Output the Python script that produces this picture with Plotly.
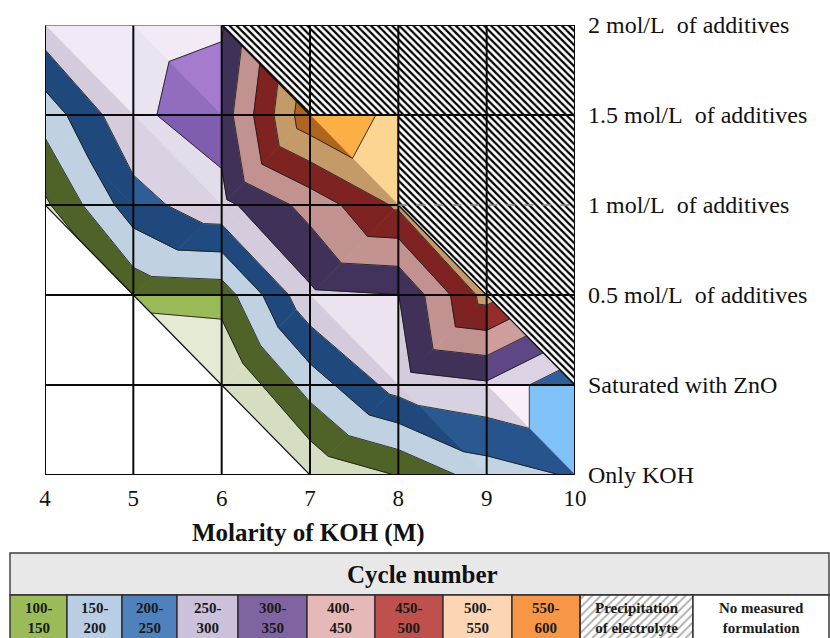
import numpy as np
import plotly.graph_objects as go

# ---------------------------------------------------------------- data ----
koh_molarity = [4, 5, 6, 7, 8, 9, 10]
additive_labels = ["Only KOH", "Saturated with ZnO",
                   "0.5 mol/L\u00a0 of additives", "1 mol/L\u00a0 of additives",
                   "1.5 mol/L\u00a0 of additives", "2 mol/L\u00a0 of additives"]

NM = None       # formulation not measured
PR = "precip"   # electrolyte precipitated

# cycle number reached, one list per electrolyte row, KOH 4 ... 10 M
cycles_only_koh = [NM, NM, NM, 55, 102, 175, 205]
cycles_sat_zno = [NM, NM, 40, 172, 272, 292, 205]
cycles_add_0_5 = [NM, 115, 122, 290, 299, 470, PR]
cycles_add_1_0 = [91, 229, 285, 368, 459, PR, PR]
cycles_add_1_5 = [170, 292, 322, 538, 487, PR, PR]
cycles_add_2_0 = [280, 285, 295, PR, PR, PR, PR]

# colour bands of the surface, steps of 50 cycles
band_edges = [100, 150, 200, 250, 300, 350, 400, 450, 500]
band_shadow = ["#D6DEC2", "#4F6228", "#C0D2E2", "#1F497D", "#D4CCDD",
               "#3F3157", "#C29290", "#7E2222", "#C49A68", "#B0651E"]
band_base = ["#E4EAD4", "#9BBB59", "#C8DAEA", "#3A70B0", "#DFD8E8",
             "#7556A6", "#D8A4A2", "#A33432", "#E6BC8A", "#E08A30"]
band_lit = ["#F1F5E6", "#B6D276", "#DDE9F6", "#80C2F8", "#F8EFF9",
            "#B486DC", "#EEC6C4", "#C8504C", "#FFD893", "#FFB347"]

# key table under the chart
key_labels = ["100-<br>150", "150-<br>200", "200-<br>250", "250-<br>300",
              "300-<br>350", "400-<br>450", "450-<br>500", "500-<br>550",
              "550-<br>600", "Precipitation<br>of electrolyte",
              "No measured<br>formulation"]
key_colors = ["#9BBB59", "#B9CDE5", "#4F81BD", "#CCC1DA", "#8064A2",
              "#E6B9B8", "#C0504D", "#FCD5B5", "#F79646", None, "#FFFFFF"]
key_edges_px = [10, 67, 122, 177, 238, 307, 375, 443, 512, 580, 693, 829]

# ------------------------------------------------------------- helpers ----
grid = [cycles_only_koh, cycles_sat_zno, cycles_add_0_5,
        cycles_add_1_0, cycles_add_1_5, cycles_add_2_0]
SERIF = "Liberation Serif, Times New Roman, serif"


def is_num(v):
    return isinstance(v, (int, float))


def rgb(h):
    h = h.lstrip("#")
    return np.array([int(h[k:k + 2], 16) for k in (0, 2, 4)], dtype=float)


def mix(c1, c2, t):
    c = rgb(c1) * (1 - t) + rgb(c2) * t
    return "rgb(%d,%d,%d)" % tuple(np.clip(np.round(c), 0, 255))


LIGHT = np.array([0.5, 0.3, 0.81])
LIGHT = LIGHT / np.linalg.norm(LIGHT)


def intensity(tri):
    a_mat = np.array([[p[0], p[1], 1.0] for p in tri])
    zz = np.array([p[2] for p in tri], dtype=float)
    ga, gb, _ = np.linalg.solve(a_mat, zz)
    n = np.array([-ga / 150.0, -gb / 150.0, 1.0])
    n = n / np.linalg.norm(n)
    return float(n @ LIGHT)


def band_color(k, light):
    if light <= 0.3:
        return mix(band_shadow[k], band_shadow[k], 0)
    if light < 0.55:
        return mix(band_shadow[k], band_base[k], (light - 0.3) / 0.25)
    if light < 0.9:
        return mix(band_base[k], band_lit[k], (light - 0.55) / 0.35)
    return mix(band_lit[k], band_lit[k], 0)


def clip(poly, level, above):
    out = []
    n = len(poly)
    for k in range(n):
        cur, nxt = poly[k], poly[(k + 1) % n]
        cin = cur[2] >= level if above else cur[2] <= level
        nin = nxt[2] >= level if above else nxt[2] <= level
        if cin:
            out.append(cur)
        if cin != nin:
            t = (level - cur[2]) / (nxt[2] - cur[2])
            out.append((cur[0] + t * (nxt[0] - cur[0]),
                        cur[1] + t * (nxt[1] - cur[1]), level))
    return out


# ---------------------------------------------------- triangulate grid ----
surface_tris, hatch_tris, edge_lines = [], [], []
for j in range(len(grid) - 1):
    for i in range(len(koh_molarity) - 1):
        corner = {
            "TL": (i, j + 1), "TR": (i + 1, j + 1),
            "BL": (i, j), "BR": (i + 1, j),
        }
        vals = {k: grid[c[1]][c[0]] for k, c in corner.items()}
        pts = {k: (koh_molarity[c[0]], c[1], vals[k]) for k, c in corner.items()}
        if all(is_num(v) for v in vals.values()):
            if vals["TL"] + vals["BR"] >= vals["BL"] + vals["TR"]:
                split = [("TL", "TR", "BR"), ("TL", "BL", "BR")]
            else:
                split = [("TL", "TR", "BL"), ("TR", "BR", "BL")]
        else:
            split = [("TL", "TR", "BR"), ("TL", "BL", "BR")]
        n_valid = 0
        for tri in split:
            tv = [vals[k] for k in tri]
            if all(is_num(v) for v in tv):
                surface_tris.append([pts[k] for k in tri])
                n_valid += 1
            elif any(v == PR for v in tv):
                hatch_tris.append([(pts[k][0], pts[k][1]) for k in tri])
        if n_valid == 1:
            edge_lines.append((pts["TL"][:2], pts["BR"][:2]))

fig = go.Figure()

# coloured bands
contour_x, contour_y = [], []
for tri in surface_tris:
    light = intensity(tri)
    for k in range(len(band_edges) + 1):
        poly = list(tri)
        if k > 0:
            poly = clip(poly, band_edges[k - 1], True)
        if k < len(band_edges) and poly:
            poly = clip(poly, band_edges[k], False)
        if len(poly) < 3:
            continue
        col = band_color(k, light)
        fig.add_trace(go.Scatter(
            x=[p[0] for p in poly] + [poly[0][0]],
            y=[p[1] for p in poly] + [poly[0][1]],
            mode="lines", fill="toself", fillcolor=col,
            line=dict(color=col, width=0.8),
            hoverinfo="skip", showlegend=False))
    for lv in band_edges:
        cross = []
        for k in range(3):
            p, q = tri[k], tri[(k + 1) % 3]
            if (p[2] - lv) * (q[2] - lv) < 0:
                t = (lv - p[2]) / (q[2] - p[2])
                cross.append((p[0] + t * (q[0] - p[0]), p[1] + t * (q[1] - p[1])))
        if len(cross) == 2:
            contour_x += [cross[0][0], cross[1][0], None]
            contour_y += [cross[0][1], cross[1][1], None]

fig.add_trace(go.Scatter(x=contour_x, y=contour_y, mode="lines",
                         line=dict(color="rgba(25,25,25,0.85)", width=1),
                         hoverinfo="skip", showlegend=False))

# boundary of the measured region
bx, by = [], []
for a, b in edge_lines:
    bx += [a[0], b[0], None]
    by += [a[1], b[1], None]
fig.add_trace(go.Scatter(x=bx, y=by, mode="lines",
                         line=dict(color="#111111", width=1.2),
                         hoverinfo="skip", showlegend=False))


# precipitation region as one hatched outline
def outline(tris):
    cnt = {}
    for t in tris:
        for k in range(3):
            key = frozenset([t[k], t[(k + 1) % 3]])
            cnt[key] = cnt.get(key, 0) + 1
    adj = {}
    for key, c in cnt.items():
        if c == 1:
            a, b = tuple(key)
            adj.setdefault(a, []).append(b)
            adj.setdefault(b, []).append(a)
    used, xs, ys = set(), [], []
    for start in adj:
        cur, loop = start, [start]
        while True:
            nxt = next((n for n in adj[cur] if frozenset([cur, n]) not in used), None)
            if nxt is None:
                break
            used.add(frozenset([cur, nxt]))
            loop.append(nxt)
            cur = nxt
            if cur == start:
                break
        if len(loop) > 2:
            xs += [p[0] for p in loop] + [None]
            ys += [p[1] for p in loop] + [None]
    return xs, ys


hx, hy = outline(hatch_tris)
fig.add_trace(go.Scatter(
    x=hx, y=hy, mode="lines", fill="toself", fillcolor="white",
    fillpattern=dict(shape="\\", fgcolor="#000000", bgcolor="#FFFFFF",
                     size=5, solidity=0.45),
    line=dict(color="#111111", width=1.2),
    hoverinfo="skip", showlegend=False))

# grid lines drawn over the surface
gx, gy = [], []
for xv in koh_molarity:
    gx += [xv, xv, None]
    gy += [0, len(grid) - 1, None]
for r in range(len(grid) - 1):
    if r == 3:
        gx += [koh_molarity[0], 8, None]
    else:
        gx += [koh_molarity[0], koh_molarity[-1], None]
    gy += [r, r, None]
gx += [6, koh_molarity[-1], None]
gy += [len(grid) - 1, len(grid) - 1, None]
fig.add_trace(go.Scatter(x=gx, y=gy, mode="lines",
                         line=dict(color="#0A0A0A", width=2),
                         hoverinfo="skip", showlegend=False))
fig.add_trace(go.Scatter(x=[8, koh_molarity[-1]], y=[3, 3], mode="lines",
                         line=dict(color="#8A8A8A", width=1.5, dash="dash"),
                         hoverinfo="skip", showlegend=False))
fig.add_trace(go.Scatter(x=[koh_molarity[0], 6], y=[len(grid) - 1] * 2,
                         mode="lines", line=dict(color="#6E6E6E", width=1.5),
                         hoverinfo="skip", showlegend=False))

# ---------------------------------------------------------------- key ----
W, H = 830, 638
X0, X1, Y0, Y1 = 45, 575, 25, 475
TOP, MID, BOT = 553, 595, 660

shapes = [dict(type="rect", xref="x2", yref="y2", x0=10, x1=829, y0=TOP, y1=MID,
               fillcolor="#E8E8E8", line=dict(color="#3C3C3C", width=1.4),
               layer="below")]
annotations = [dict(text="<b>Cycle number</b>", xref="x2", yref="y2",
                    x=422, y=(TOP + MID) / 2, showarrow=False,
                    font=dict(family=SERIF, size=25, color="#111111"))]

pr_idx = key_colors.index(None)
px0, px1 = key_edges_px[pr_idx], key_edges_px[pr_idx + 1]
fig.add_trace(go.Scatter(
    x=[px0, px1, px1, px0, px0], y=[MID, MID, BOT, BOT, MID],
    xaxis="x2", yaxis="y2", mode="lines", fill="toself", fillcolor="white",
    fillpattern=dict(shape="/", fgcolor="#A8A8A8", bgcolor="#FFFFFF",
                     size=6, solidity=0.3),
    line=dict(width=0), hoverinfo="skip", showlegend=False))

for k, (lab, col) in enumerate(zip(key_labels, key_colors)):
    xa, xb = key_edges_px[k], key_edges_px[k + 1]
    shapes.append(dict(type="rect", xref="x2", yref="y2", x0=xa, x1=xb,
                       y0=MID, y1=BOT,
                       fillcolor=col if col else "rgba(0,0,0,0)",
                       line=dict(color="#2E2E2E", width=1.4), layer="above"))
    annotations.append(dict(text="<b>%s</b>" % lab, xref="x2", yref="y2",
                            x=(xa + xb) / 2, y=617.5, showarrow=False,
                            font=dict(family=SERIF, size=15, color="#1A1A1A")))

annotations.append(dict(text="<b>Molarity of KOH (M)</b>", xref="x2", yref="y2",
                        x=308, y=533, showarrow=False,
                        font=dict(family=SERIF, size=25, color="#111111")))

fig.update_layout(
    width=W, height=H, margin=dict(l=0, r=0, t=0, b=0),
    paper_bgcolor="white", plot_bgcolor="rgba(0,0,0,0)",
    template="none", showlegend=False,
    xaxis=dict(domain=[X0 / W, X1 / W], range=[koh_molarity[0], koh_molarity[-1]],
               tickvals=koh_molarity, ticktext=[str(v) for v in koh_molarity],
               tickfont=dict(family=SERIF, size=23, color="#111111"),
               ticks="", ticklabelstandoff=7, showgrid=False, zeroline=False,
               showline=False, automargin=False, fixedrange=True),
    yaxis=dict(domain=[1 - Y1 / H, 1 - Y0 / H], range=[0, len(grid) - 1],
               side="right", tickvals=list(range(len(grid))),
               ticktext=additive_labels,
               tickfont=dict(family=SERIF, size=24, color="#111111"),
               ticks="", ticklabelstandoff=12, showgrid=False, zeroline=False,
               showline=False, automargin=False, fixedrange=True),
    xaxis2=dict(domain=[0, 1], range=[0, W], visible=False, anchor="y2",
                fixedrange=True),
    yaxis2=dict(domain=[0, 1], range=[H, 0], visible=False, anchor="x2",
                fixedrange=True),
    shapes=shapes, annotations=annotations,
)

fig.write_html("out.html")
